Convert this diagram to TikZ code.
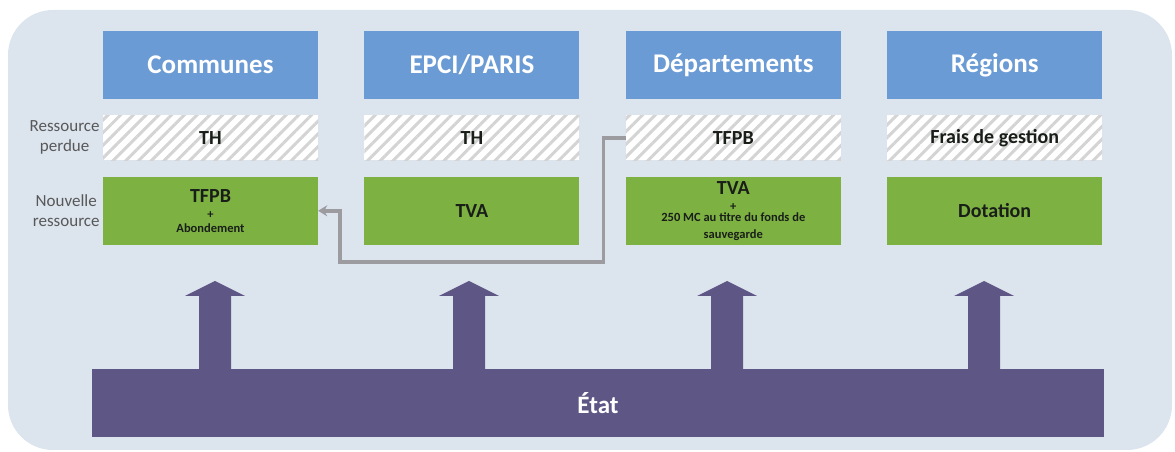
\documentclass[tikz,border=0pt]{standalone}
\usepackage{fontspec}
\setmainfont{Carlito}
\usepackage{xcolor}
\usepackage{tikz}
\usetikzlibrary{arrows.meta,positioning,patterns.meta}
\definecolor{panelblue} {RGB}{220,228,238}
\definecolor{headblue}  {RGB}{107,155,213}
\definecolor{resgreen}  {RGB}{125,178,66}
\definecolor{etatpurple}{RGB}{94,86,133}
\definecolor{hatchgray} {RGB}{212,212,212}
\definecolor{linkgray}  {RGB}{155,155,160}
\definecolor{labelgray} {RGB}{88,88,88}
\definecolor{boxtext}   {RGB}{25,30,25}
\newcommand{\rowtxt}{\fontsize{20}{22}\selectfont}
\newcommand{\smalltxt}{\fontsize{12.5}{13}\selectfont}
\tikzset{
  colbox/.style ={minimum width=215pt, inner sep=2pt, align=center,
                  text=boxtext},
  headbox/.style={colbox, fill=headblue, minimum height=68pt, text=white,
                  font=\bfseries\fontsize{27}{30}\selectfont},
  lostbox/.style={colbox, fill=white, minimum height=45pt,
                  font=\bfseries\rowtxt,
                  postaction={pattern={Lines[angle=45,distance=9pt,
                              line width=3pt]}, pattern color=hatchgray}},
  newbox/.style ={colbox, fill=resgreen, minimum height=68pt,
                  font=\bfseries\rowtxt},
  rowlabel/.style={align=center, text=labelgray, inner sep=0pt,
                  font=\fontsize{17}{20}\selectfont},
  etatbar/.style={fill=etatpurple, minimum width=1012pt, minimum height=68pt,
                  text=white, font=\bfseries\fontsize{25}{28}\selectfont},
  linkarr/.style={-{Stealth[length=9pt,width=11pt]}, line width=3.5pt,
                  draw=linkgray},
  uparrow/.pic  ={\fill[etatpurple] (-16,-3) -- (-16,73) -- (-30,73) -- (0,88)
                  -- (30,73) -- (16,73) -- (16,-3) -- cycle;},
}
\begin{document}
\begin{tikzpicture}[x=1pt, y=1pt]
  \useasboundingbox (0,0) rectangle (1175,452);
  \fill[panelblue, rounded corners=45pt] (8,2) rectangle (1172,442);

  % collectivites
  \node[headbox] (hc) at (210.5,387) {Communes};
  \node[headbox, right=46pt of hc] (he) {EPCI/PARIS};
  \node[headbox, right=46pt of he] (hd) {Départements};
  \node[headbox, right=46pt of hd] (hr) {Régions};

  \node[lostbox, below=16pt of hc] (pc) {TH};
  \node[lostbox, below=16pt of he] (pe) {TH};
  \node[lostbox, below=16pt of hd] (pd) {TFPB};
  \node[lostbox, below=16pt of hr] (pr) {Frais de gestion};

  \node[newbox, below=16pt of pc] (nc)
        {TFPB\\[-6pt]{\smalltxt +}\\[-8pt]{\smalltxt Abondement}};
  \node[newbox, below=16pt of pe] (ne) {TVA};
  \node[newbox, below=16pt of pd] (nd)
        {TVA\\[-6pt]{\smalltxt +}\\[-11pt]{\smalltxt 250 MC au titre du fonds de}
         \\[-5pt]{\smalltxt sauvegarde}};
  \node[newbox, below=16pt of pr] (nr) {Dotation};

  \node[rowlabel, left=3pt of pc] (lp) {Ressource\\perdue};
  \node[rowlabel, left=3pt of nc] (ln) {Nouvelle\\ressource};

  % etat
  \pic at (215,83) {uparrow};
  \pic at (469,83) {uparrow};
  \pic at (727,83) {uparrow};
  \pic at (984,83) {uparrow};
  \node[etatbar] (etat) at (598,49) {État};

  \coordinate (turn) at ([xshift=22pt,yshift=-51pt]nc.east);
  \draw[linkarr] (pd.west) -- ++(-22,0) |- (turn) |- (nc.east);
\end{tikzpicture}
\end{document}
